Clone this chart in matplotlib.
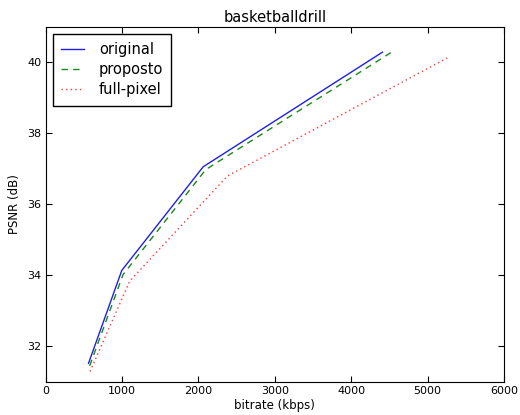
import matplotlib
matplotlib.use("Agg")
import matplotlib.pyplot as plt

title = "basketballdrill"
labels = ["original", "proposto", "full-pixel"]
original_x = [560, 996, 2062, 4410]
original_y = [31.52, 34.14, 37.06, 40.29]
proposto_x = [575, 1012, 2095, 4530]
proposto_y = [31.45, 34.02, 36.98, 40.29]
fullpixel_x = [580, 1100, 2380, 5295]
fullpixel_y = [31.29, 33.84, 36.80, 40.17]

plt.rcParams['font.family'] = ['DejaVu Sans']
fig = plt.figure(figsize=(5.2, 4.15), dpi=100)
ax = fig.add_axes([0.088, 0.080, 0.881, 0.855])
ax.plot(original_x, original_y, color='#1f1fe6', linestyle='-', lw=1, label=labels[0])
ax.plot(proposto_x, proposto_y, color='#178a17', linestyle='--', lw=1, dashes=(4.6, 3.8), label=labels[1])
ax.plot(fullpixel_x, fullpixel_y, color='#ff3535', linestyle=':', lw=1, dashes=(1, 2.3), label=labels[2])
ax.set_xlim(0, 6000)
ax.set_ylim(31, 41)
ax.set_xticks([0, 1000, 2000, 3000, 4000, 5000, 6000])
ax.set_yticks([32, 34, 36, 38, 40])
ax.tick_params(direction='in', top=True, right=True, length=4, labelsize=8, pad=3)
ax.set_xlabel("bitrate (kbps)", fontsize=8.5, labelpad=2)
ax.set_ylabel("PSNR (dB)", fontsize=8.5)
ax.yaxis.set_label_coords(-0.0546, 0.5)
ax.set_title(title, fontsize=10.5, pad=3.5)
leg = ax.legend(loc='upper left', fontsize=10.5, fancybox=False, framealpha=1,
                edgecolor='black', handlelength=1.6, handletextpad=1.0,
                borderpad=0.55, labelspacing=0.35, borderaxespad=0.5)
leg.get_frame().set_linewidth(1)
fig.savefig("out.png", dpi=100)
